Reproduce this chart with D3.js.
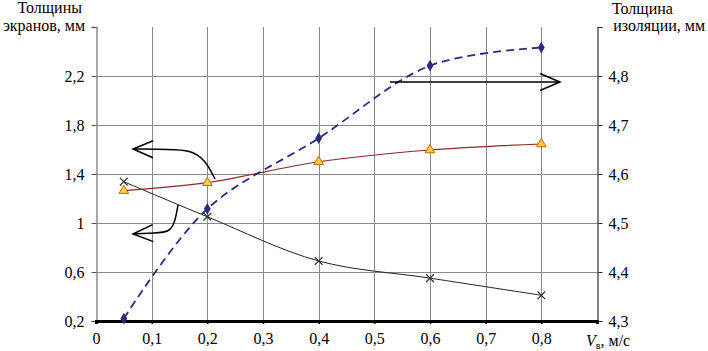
<!DOCTYPE html>
<html>
<head>
<meta charset="utf-8">
<script src="https://cdn.jsdelivr.net/npm/d3@7"></script>
</head>
<body style="margin:0">
<script>
var W=708, H=351;
var FONT="'Liberation Serif'";

// data
var speed=[0.05,0.2,0.4,0.6,0.8];
var insulation=[4.305,4.529,4.673,4.821,4.858];   // right axis, diamonds
var screen1=[1.264,1.329,1.50,1.596,1.645];        // left axis, triangles
var screen2=[1.337,1.051,0.69,0.55,0.41];          // left axis, crosses
var xTicks=[0,0.1,0.2,0.3,0.4,0.5,0.6,0.7,0.8];
var leftTicks=[0.2,0.6,1,1.4,1.8,2.2];
var rightTicks=[4.3,4.4,4.5,4.6,4.7,4.8];

// annotation arrows, in data units (x, left axis)
var arrowUp=[[0.2138,1.359],[0.1958,1.52],[0.1689,1.596],[0.1329,1.600],[0.0665,1.604]];
var arrowDown=[[0.1473,1.147],[0.1419,1.008],[0.1329,0.927],[0.106,0.918],[0.0665,0.910]];
var arrowRight=[[0.528,2.151],[0.8335,2.151]];

var fmt=function(d){return String(d).replace(".",",");};

var svg=d3.select("body").append("svg").attr("width",W).attr("height",H)
    .attr("font-family","Liberation Serif").style("font-family",FONT);

var x=d3.scaleLinear().domain([0,0.9]).range([96,597]);
var yL=d3.scaleLinear().domain([0.2,2.6]).range([321,27]);
var yR=d3.scaleLinear().domain([4.3,4.9]).range([321,27]);

svg.append("defs").append("marker")
    .attr("id","head")
    .attr("markerUnits","userSpaceOnUse")
    .attr("viewBox","-24 -12 26 24")
    .attr("refX",0).attr("refY",0)
    .attr("markerWidth",26).attr("markerHeight",24)
    .attr("orient","auto")
    .append("path")
    .attr("d","M-20,-8.5L0,0L-20,8.5")
    .attr("fill","none").attr("stroke","#000").attr("stroke-width",1.5);

// grid
svg.append("g").selectAll("line").data(leftTicks.slice(1)).enter().append("line")
    .attr("x1",96).attr("x2",597)
    .attr("y1",function(d){return yL(d)+0.5;}).attr("y2",function(d){return yL(d)+0.5;})
    .attr("stroke","#8a8a8a").attr("stroke-width",1);
svg.append("g").selectAll("line").data(xTicks.slice(1)).enter().append("line")
    .attr("x1",function(d){return Math.round(x(d))+0.5;}).attr("x2",function(d){return Math.round(x(d))+0.5;})
    .attr("y1",27).attr("y2",321)
    .attr("stroke","#8a8a8a").attr("stroke-width",1);

// left axis
var gl=svg.append("g").attr("transform","translate(96.5,0)")
    .call(d3.axisLeft(yL).tickValues(leftTicks.concat([2.6])).tickSize(5).tickFormat(function(d){return d==2.6?"":fmt(d);}));
gl.select(".domain").attr("stroke","#8a8a8a").attr("stroke-width",1.5);
gl.selectAll(".tick line").attr("stroke","#555");
gl.selectAll(".tick text").attr("x",-12);

// right axis
var gr=svg.append("g").attr("transform","translate(597.5,0)")
    .call(d3.axisRight(yR).tickValues(rightTicks.concat([4.9])).tickSize(5).tickFormat(function(d){return d==4.9?"":fmt(d);}));
gr.select(".domain").attr("stroke","#333").attr("stroke-width",1.2);
gr.selectAll(".tick line").attr("stroke","#333");
gr.selectAll(".tick text").attr("x",11);

// bottom axis
var gb=svg.append("g").attr("transform","translate(0,321)")
    .call(d3.axisBottom(x).tickValues(xTicks).tickSize(3).tickFormat(fmt));
gb.select(".domain").attr("stroke","#000").attr("stroke-width",3);
gb.selectAll(".tick line").attr("stroke","#000").attr("stroke-width",1.5);
gb.selectAll(".tick text").attr("y",12);

[gl,gr,gb].forEach(function(g){
    g.attr("font-family",null).attr("font-size",null);
});

// axis titles
svg.append("text").attr("x",82).attr("y",13).attr("text-anchor","end").text("Толщины");
svg.append("text").attr("x",85).attr("y",31).attr("text-anchor","end").text("экранов, мм");
svg.append("text").attr("x",612).attr("y",14).text("Толщина");
svg.append("text").attr("x",705).attr("y",31).attr("text-anchor","end").text("изоляции, мм");
var vt=svg.append("text").attr("x",586).attr("y",346);
vt.append("tspan").style("font-style","italic").text("V");
vt.append("tspan").attr("class","sub").attr("dy",3).text("в");
vt.append("tspan").attr("dy",-3).text(", м/с");

svg.selectAll("text")
    .attr("font-family","Liberation Serif")
    .attr("font-size",16)
    .style("font-family",FONT)
    .style("font-size","16px")
    .style("fill","#000");
vt.select(".sub").style("font-size","10px");

// series lines
var lineL=d3.line().x(function(d){return x(d[0]);}).y(function(d){return yL(d[1]);}).curve(d3.curveCatmullRom.alpha(0.5));
var lineR=d3.line().x(function(d){return x(d[0]);}).y(function(d){return yR(d[1]);}).curve(d3.curveCatmullRom.alpha(0.5));

var s1=d3.zip(speed,screen1), s2=d3.zip(speed,screen2), s3=d3.zip(speed,insulation);

svg.append("path").datum(s2).attr("d",lineL).attr("fill","none").attr("stroke","#222").attr("stroke-width",1);
svg.append("path").datum(s1).attr("d",lineL).attr("fill","none").attr("stroke","#8b2a2a").attr("stroke-width",1.2);
svg.append("path").datum(s3).attr("d",lineR).attr("fill","none").attr("stroke","#2a2a80").attr("stroke-width",1.8).attr("stroke-dasharray","8,5");

// markers
svg.append("g").selectAll("path").data(s3).enter().append("path")
    .attr("transform",function(d){return "translate("+x(d[0])+","+yR(d[1])+")";})
    .attr("d",d3.symbol().type(d3.symbolDiamond).size(40))
    .attr("fill","#2a2a80");
svg.append("g").selectAll("path").data(s1).enter().append("path")
    .attr("transform",function(d){return "translate("+x(d[0])+","+yL(d[1])+")";})
    .attr("d",d3.symbol().type(d3.symbolTriangle).size(40))
    .attr("fill","#ffcc44").attr("stroke","#cc6a00").attr("stroke-width",1);
svg.append("g").selectAll("path").data(s2).enter().append("path")
    .attr("transform",function(d){return "translate("+x(d[0])+","+yL(d[1])+")";})
    .attr("d",d3.symbol().type(d3.symbolX).size(40))
    .attr("fill","none").attr("stroke","#2e3a2e").attr("stroke-width",1.3);

// arrows
var arrowLine=d3.line().x(function(d){return x(d[0]);}).y(function(d){return yL(d[1]);}).curve(d3.curveBasis);
[arrowUp,arrowDown,arrowRight].forEach(function(a){
    svg.append("path").datum(a).attr("d",arrowLine)
        .attr("fill","none").attr("stroke","#000").attr("stroke-width",1.5)
        .attr("marker-end","url(#head)");
});
</script>
</body>
</html>
